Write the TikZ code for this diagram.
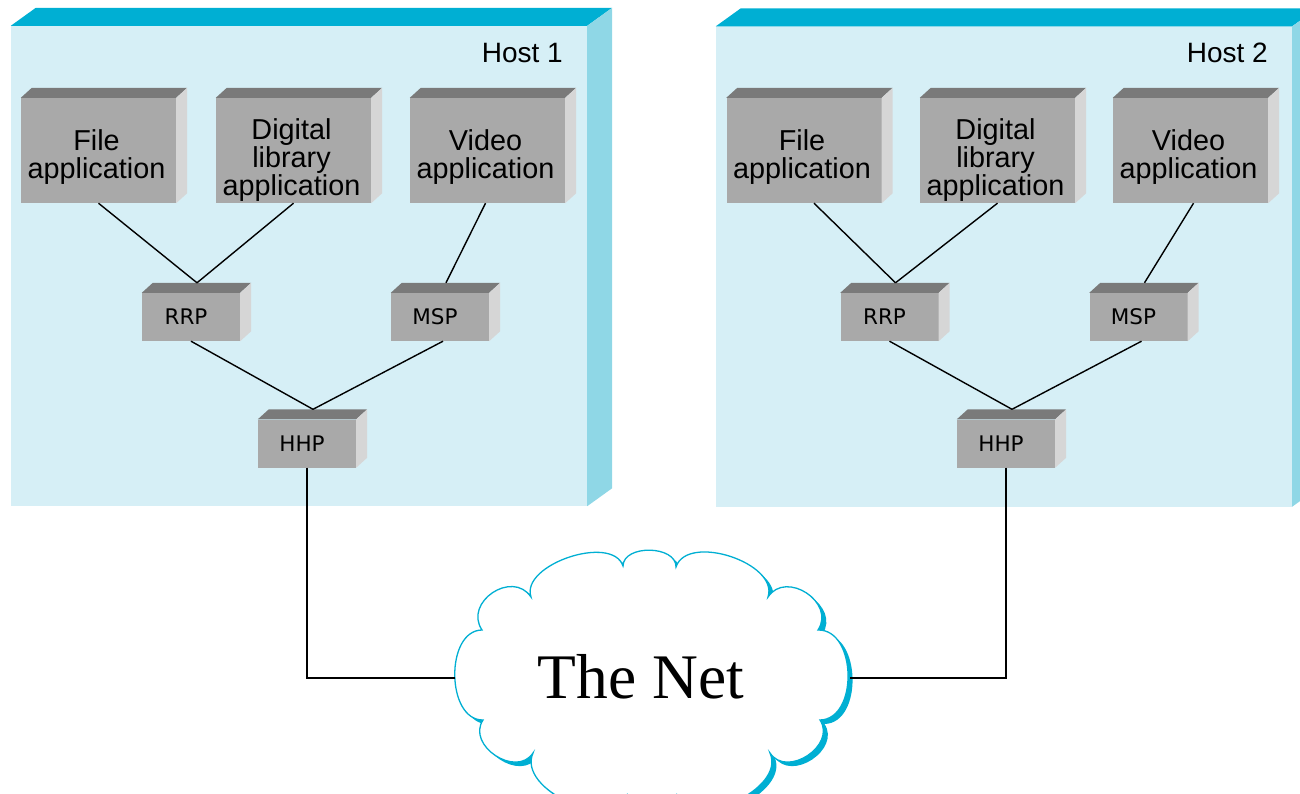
\documentclass[tikz,border=0pt]{standalone}
\usepackage{fontspec}
\setmainfont{Liberation Sans}
\newfontfamily\protofont{DejaVu Sans}
\newfontfamily\netfont{Liberation Serif}

\definecolor{hostface}{RGB}{214,239,246}
\definecolor{hosttop}{RGB}{0,175,211}
\definecolor{hostside}{RGB}{143,215,230}
\definecolor{boxfront}{RGB}{169,169,169}
\definecolor{boxtop}{RGB}{122,122,122}
\definecolor{boxside}{RGB}{214,214,214}
\definecolor{netblue}{RGB}{0,175,211}

\tikzset{
  hostbox/.style={fill=hostface, minimum width=576, minimum height=480, inner sep=0},
  hosttext/.style={inner sep=0, font=\fontsize{28}{28}\selectfont},
  appbox/.style={fill=boxfront, minimum width=155, minimum height=105, inner sep=0},
  apptext/.style={align=center, inner sep=0, font=\fontsize{28.8}{28}\selectfont},
  protobox/.style={fill=boxfront, minimum width=98, minimum height=48, inner sep=0},
  prototext/.style={inner sep=0, font=\protofont\fontsize{21.5}{22}\selectfont},
  link/.style={draw=black, line width=1.4},
  puff/.style={bend left=90, looseness=#1},
}

% slanted top and side faces of a block, from its front node
\newcommand\blockfaces[5]{%
  \fill[#4] (#1.north west) -- ++(#2,#3) -- ([shift={(#2,#3)}]#1.north east) -- (#1.north east) -- cycle;
  \fill[#5] (#1.north east) -- ++(#2,#3) -- ([shift={(#2,#3)}]#1.south east) -- (#1.south east) -- cycle;
}

% outline of the network cloud
\newcommand\netoutline{%
  (482,-630) to[puff=1.45] (531,-597) to[puff=0.9] (623,-566) to[puff=1.05] (676,-567)
  to[puff=0.95] (768,-597) to[puff=1.4] (818,-630) to[puff=1.1] (820,-720)
  to[puff=1.3] (770,-753) to[puff=1.0] (677,-795) to[puff=1.0] (627,-795)
  to[puff=1.0] (533,-753) to[puff=1.3] (483,-720) to[puff=1.05] (482,-630) -- cycle}

\begin{document}
\begin{tikzpicture}[x=1pt,y=1pt]
\useasboundingbox (0,0) rectangle (1300,-794);
\clip (0,0) rectangle (1300,-794);

% hosts
\node[hostbox] (host1) at (299,-266) {};
\blockfaces{host1}{25}{18}{hosttop}{hostside}
\node[hostbox] (host2) at (1004,-266.5) {};
\blockfaces{host2}{25}{18}{hosttop}{hostside}
\node[hosttext, anchor=base east] (host1t) at (563,-63) {Host 1};
\node[hosttext, anchor=base east] (host2t) at (1268,-63) {Host 2};

% application blocks
\foreach \n/\x in {file1/98.5, dig1/293.5, vid1/487.5, file2/804, dig2/997.5, vid2/1190.5}{
  \node[appbox] (\n) at (\x,-150.5) {};
  \blockfaces{\n}{11}{10}{boxtop}{boxside}
}
\node[apptext] (file1t) at ([shift={(-2,-7)}]file1.center) {File\\application};
\node[apptext] (dig1t) at ([shift={(-2,-10)}]dig1.center) {Digital\\library\\application};
\node[apptext] (vid1t) at ([shift={(-2,-7)}]vid1.center) {Video\\application};
\node[apptext] (file2t) at ([shift={(-2,-7)}]file2.center) {File\\application};
\node[apptext] (dig2t) at ([shift={(-2,-10)}]dig2.center) {Digital\\library\\application};
\node[apptext] (vid2t) at ([shift={(-2,-7)}]vid2.center) {Video\\application};

% protocol blocks
\foreach \n/\x/\y/\t in {rrp1/191/317/RRP, msp1/440/317/MSP, hhp1/307/443.5/HHP,
                         rrp2/889.5/317/RRP, msp2/1138.5/317/MSP, hhp2/1006/443.5/HHP}{
  \node[protobox] (\n) at (\x,-\y) {};
  \blockfaces{\n}{11}{10}{boxtop}{boxside}
  \node[prototext] (\n t) at ([xshift=-5]\n.center) {\t};
}

% the network
\fill[netblue, shift={(4.5,-4)}] \netoutline;
\filldraw[fill=white, draw=netblue, line width=1.3] \netoutline;
\node[inner sep=0, anchor=base, font=\netfont\fontsize{63.5}{64}\selectfont] (net) at (641,-698) {The Net};
\coordinate (netW) at (455,-678);
\coordinate (netE) at (850,-678);

% links, host 1
\draw[link] (file1.south) -- ([shift={(6,10)}]rrp1.north);
\draw[link] (dig1.south) -- ([shift={(6,10)}]rrp1.north);
\draw[link] ([xshift=-2]vid1.south) -- ([shift={(6,10)}]msp1.north);
\draw[link] (rrp1.south) -- ([shift={(6,10)}]hhp1.north);
\draw[link] ([xshift=3]msp1.south) -- ([shift={(6,10)}]hhp1.north);
\draw[link] (hhp1.south) |- (netW);

% links, host 2
\draw[link] ([xshift=10]file2.south) -- ([shift={(6,10)}]rrp2.north);
\draw[link] (dig2.south) -- ([shift={(6,10)}]rrp2.north);
\draw[link] ([xshift=3]vid2.south) -- ([shift={(6,10)}]msp2.north);
\draw[link] (rrp2.south) -- ([shift={(6,10)}]hhp2.north);
\draw[link] ([xshift=3]msp2.south) -- ([shift={(6,10)}]hhp2.north);
\draw[link] (hhp2.south) |- (netE);
\end{tikzpicture}
\end{document}
